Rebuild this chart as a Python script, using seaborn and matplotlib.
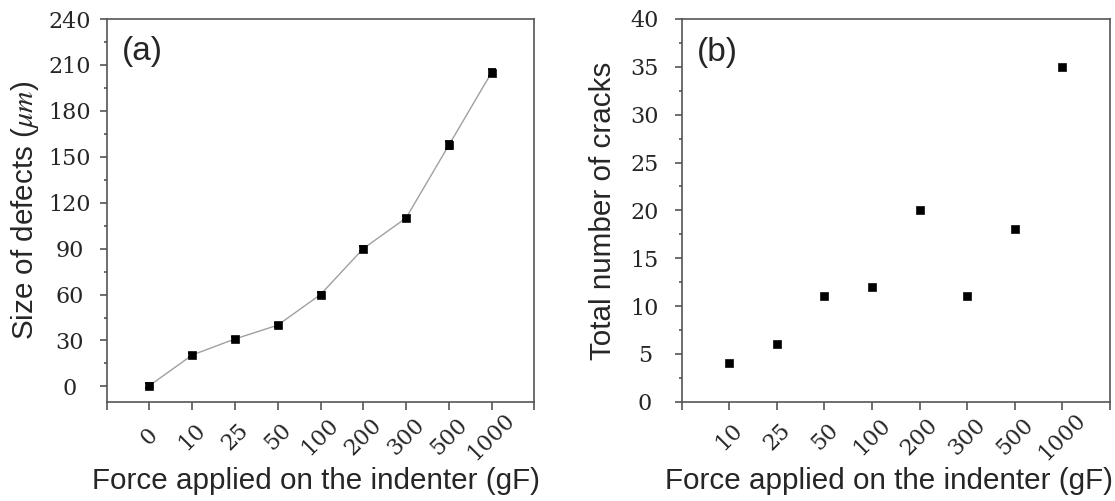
import numpy as np
import pandas as pd
import matplotlib
matplotlib.use("Agg")
import matplotlib.pyplot as plt
import seaborn as sns
from matplotlib.ticker import MultipleLocator

# ---- data ----
force_a = ["0", "10", "25", "50", "100", "200", "300", "500", "1000"]
size_defects = [0.5, 20.5, 31, 40, 60, 90, 110, 157.5, 205]
size_err = [1.5, 1.5, 1.5, 1.5, 1.5, 1.5, 1.5, 2.5, 2.5]

force_b = ["10", "25", "50", "100", "200", "300", "500", "1000"]
n_cracks = [4, 6, 11, 12, 20, 11, 18, 35]

sns.set_theme(style="ticks")
plt.rcParams["font.family"] = ["Liberation Sans", "DejaVu Sans"]
plt.rcParams["mathtext.fontset"] = "stix"

W, H = 1115, 501
fig = plt.figure(figsize=(W/100, H/100), dpi=100)
ax1 = fig.add_axes([106.7/W, 1-401.7/H, 427.6/W, 382.7/H])
ax2 = fig.add_axes([681.7/W, 1-401.7/H, 428.3/W, 382.7/H])

TICK_FAMILY = "DejaVu Serif"
TICK_SIZE = 16
LABEL_SIZE = 21.3
PX = 0.72  # points per pixel at dpi 100

def style_axes(ax, ncat):
    for s in ax.spines.values():
        s.set_color("#555555")
        s.set_linewidth(1.2)
    ax.set_xlim(-1, ncat)
    ax.set_xticks(list(range(-1, ncat + 1)))
    ax.tick_params(axis="x", which="major", direction="out", length=8*PX, width=1.2,
                   color="#555555", pad=27*PX)
    ax.tick_params(axis="y", which="major", direction="out", length=7*PX, width=1.2,
                   color="#555555", pad=30*PX)
    ax.tick_params(axis="y", which="minor", direction="out", length=3.5*PX, width=1.2,
                   color="#555555")
    for lab in ax.get_yticklabels():
        lab.set_fontfamily(TICK_FAMILY); lab.set_fontsize(TICK_SIZE)
        lab.set_horizontalalignment("center")

def set_xlabels(ax, labels):
    ax.set_xticklabels([""] + labels + [""], rotation=45, ha="center", va="center",
                       rotation_mode="anchor", family=TICK_FAMILY, size=TICK_SIZE)

# ---- panel (a) ----
df_a = pd.DataFrame({"force": force_a, "size": size_defects})
sns.lineplot(data=df_a, x="force", y="size", ax=ax1, color="#a0a0a0", linewidth=1.0, sort=False)
ax1.errorbar(np.arange(len(force_a)), size_defects, yerr=size_err, fmt="none",
             ecolor="black", elinewidth=1.3, capsize=3, capthick=1.3, zorder=4)
sns.scatterplot(data=df_a, x="force", y="size", ax=ax1, marker="s", s=34,
                color="black", edgecolor="black", zorder=5)
ax1.set_ylim(-10, 240)
ax1.yaxis.set_major_locator(MultipleLocator(30))
ax1.yaxis.set_minor_locator(MultipleLocator(15))
style_axes(ax1, len(force_a))
set_xlabels(ax1, force_a)
ax1.set_ylabel(r"Size of defects ($\mu m$)", fontsize=LABEL_SIZE, labelpad=5.5)
ax1.set_xlabel("Force applied on the indenter (gF)", fontsize=LABEL_SIZE, labelpad=2)
ax1.xaxis.label.set_x(0.49)
ax1.text(0.035, 0.955, "(a)", transform=ax1.transAxes, fontsize=24, va="top", ha="left")

# ---- panel (b) ----
df_b = pd.DataFrame({"force": force_b, "cracks": n_cracks})
sns.scatterplot(data=df_b, x="force", y="cracks", ax=ax2, marker="s", s=34,
                color="black", edgecolor="black", zorder=5)
ax2.set_ylim(0, 40)
ax2.yaxis.set_major_locator(MultipleLocator(5))
ax2.yaxis.set_minor_locator(MultipleLocator(2.5))
style_axes(ax2, len(force_b))
set_xlabels(ax2, force_b)
ax2.set_ylabel("Total number of cracks", fontsize=LABEL_SIZE, labelpad=10)
ax2.set_xlabel("Force applied on the indenter (gF)", fontsize=LABEL_SIZE, labelpad=2)
ax2.xaxis.label.set_x(0.485)
ax2.text(0.035, 0.952, "(b)", transform=ax2.transAxes, fontsize=24, va="top", ha="left")

fig.savefig("out.png", dpi=100, facecolor="white")
